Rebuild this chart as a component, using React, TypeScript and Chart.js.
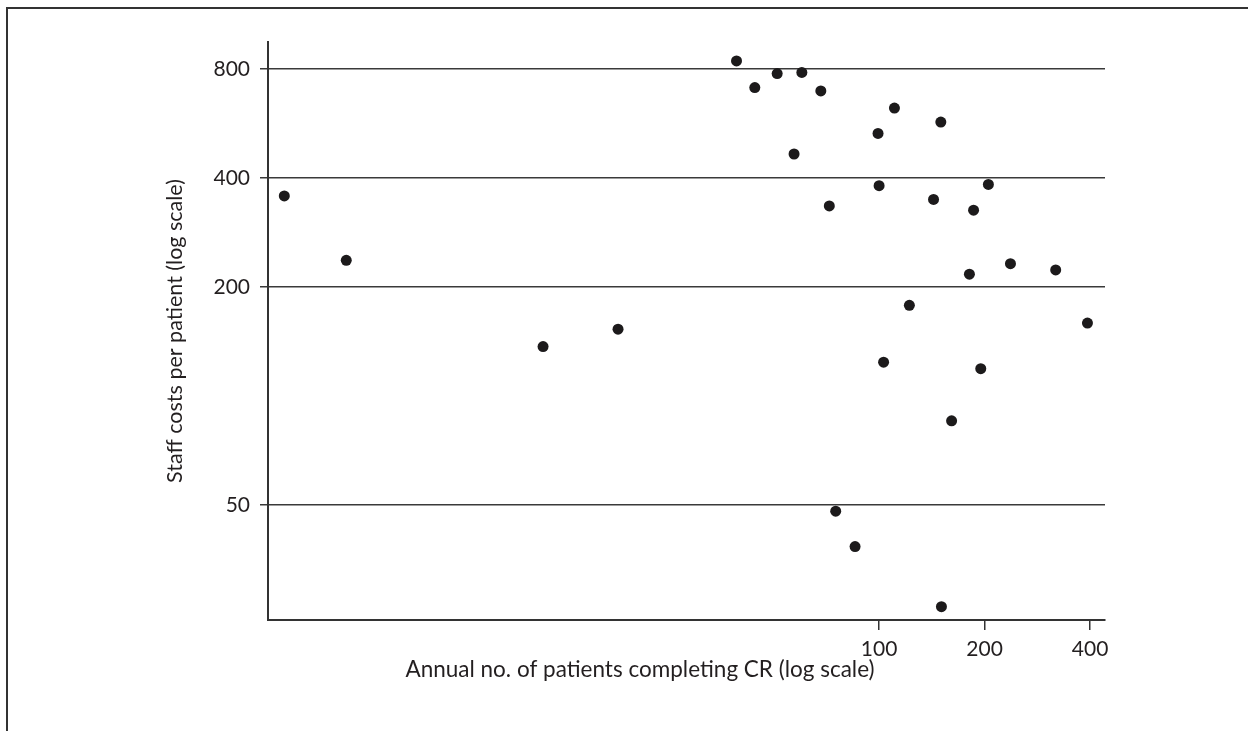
import React, { useEffect, useRef } from "react";
import { Chart, registerables } from "chart.js";

Chart.register(...registerables);

// Annual number of patients completing CR (x) and staff costs per patient (y)
const patients = [
  2.01, 3.02, 11.0, 18.0, 39.2, 44.2, 51.2, 60.2, 68.2, 57.2, 72.1, 99.3, 110.6, 150,
  100, 143, 186, 205, 122, 103, 181, 237, 319, 393, 195, 161, 75.2, 85.4, 150.6,
];
const staffCosts = [
  357, 237, 137, 153, 842, 711, 777, 783, 696, 466, 335, 531, 624, 571,
  381, 349, 326, 384, 178, 124, 217, 232, 223, 159, 119, 85.4, 48.1, 38.4, 26.2,
];
const xTickValues = [100, 200, 400];
const yTickValues = [50, 200, 400, 800];
const xTitle = "Annual no. of patients completing CR (log scale)";
const yTitle = "Staff costs per patient (log scale)";

const FONT = "Lato, 'Open Sans', sans-serif";

export default function App() {
  const ref = useRef<HTMLCanvasElement>(null);

  useEffect(() => {
    if (!ref.current) return;
    const framePlugin = {
      id: "frameAndTitle",
      beforeDraw(chart: any) {
        const ctx = chart.ctx;
        ctx.save();
        ctx.fillStyle = "#ffffff";
        ctx.fillRect(0, 0, chart.width, chart.height);
        ctx.strokeStyle = "#333333";
        ctx.lineWidth = 2;
        ctx.beginPath();
        ctx.moveTo(7, chart.height);
        ctx.lineTo(7, 8);
        ctx.lineTo(chart.width, 8);
        ctx.stroke();
        ctx.restore();
      },
      afterDraw(chart: any) {
        const ctx = chart.ctx;
        ctx.save();
        ctx.fillStyle = "#231f20";
        ctx.font = `22.5px ${FONT}`;
        ctx.textAlign = "center";
        ctx.textBaseline = "middle";
        ctx.fillText(xTitle, 640, 670);
        ctx.restore();
      },
    };

    const chart = new Chart(ref.current, {
      type: "scatter",
      data: {
        datasets: [
          {
            data: patients.map((x, i) => ({ x, y: staffCosts[i] })),
            backgroundColor: "#1c1a1b",
            borderColor: "#1c1a1b",
            pointRadius: 5.5,
            pointBorderWidth: 0,
            pointHoverRadius: 5.5,
          },
        ],
      },
      options: {
        responsive: false,
        animation: false,
        events: [],
        layout: { padding: { left: 0, top: 42, right: 143, bottom: 0 } },
        plugins: { legend: { display: false }, tooltip: { enabled: false } },
        scales: {
          x: {
            type: "logarithmic",
            min: 1.806,
            max: 441,
            afterBuildTicks: (s: any) => {
              s.ticks = xTickValues.map((v) => ({ value: v }));
            },
            afterFit: (s: any) => {
              s.height = 111;
            },
            grid: {
              drawOnChartArea: false,
              drawTicks: true,
              tickLength: 10,
              color: "#333333",
              lineWidth: 1.5,
            },
            border: { display: true, color: "#333333", width: 2 },
            ticks: {
              font: { family: FONT, size: 21 },
              color: "#231f20",
              padding: 7,
              maxRotation: 0,
              autoSkip: false,
              callback: (v: any) => String(v),
            },
          },
          y: {
            type: "logarithmic",
            min: 24.07,
            max: 950,
            afterBuildTicks: (s: any) => {
              s.ticks = yTickValues.map((v) => ({ value: v }));
            },
            afterFit: (s: any) => {
              s.width = 268;
            },
            grid: { color: "#3a3a3a", lineWidth: 1.5, tickLength: 8 },
            border: { display: true, color: "#333333", width: 2 },
            ticks: {
              font: { family: FONT, size: 21 },
              color: "#231f20",
              padding: 10,
              autoSkip: false,
              callback: (v: any) => String(v),
            },
            title: {
              display: true,
              text: yTitle,
              font: { family: FONT, size: 21.5 },
              color: "#231f20",
              padding: { top: 162, bottom: 0 },
            },
          },
        },
      },
      plugins: [framePlugin],
    });
    return () => chart.destroy();
  }, []);

  return (
    <div style={{ position: "fixed", left: 0, top: 0, width: 1248, height: 731, background: "#fff" }}>
      <canvas ref={ref} width={1248} height={731} style={{ display: "block" }} />
    </div>
  );
}
